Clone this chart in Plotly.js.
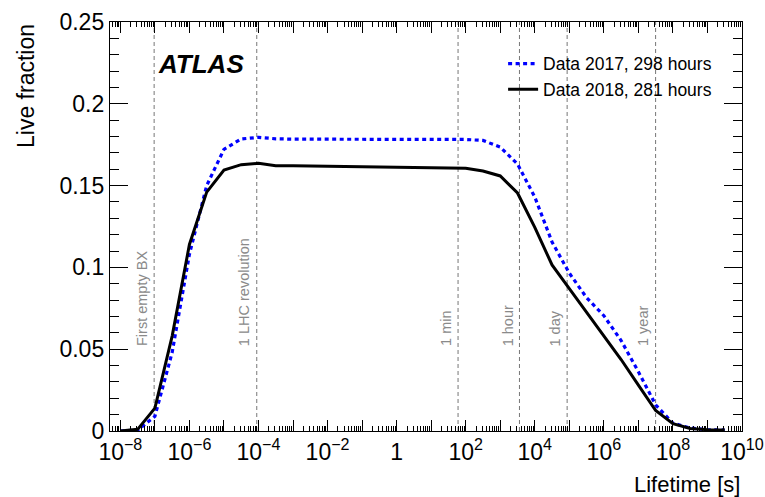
<!DOCTYPE html>
<html>
<head>
<meta charset="utf-8">
<script src="https://cdn.plot.ly/plotly-3.0.1.min.js"></script>
<style>html,body{margin:0;padding:0;background:#fff;}#chart{width:765px;height:497px;}</style>
</head>
<body>
<div id="chart"></div>
<script>
// Lifetime grid [s] (half-decade steps)
const lifetime = [1e-8, 3.16e-8, 1e-7, 3.16e-7, 1e-6, 3.16e-6, 1e-5, 3.16e-5, 1e-4, 3.16e-4,
  1e-3, 3.16e-3, 1e-2, 3.16e-2, 1e-1, 3.16e-1, 1, 3.16, 10, 31.6,
  100, 316, 1000, 3160, 1e4, 3.16e4, 1e5, 3.16e5, 1e6, 3.16e6,
  1e7, 3.16e7, 1e8, 3.16e8, 1e9, 3.16e9];
const live2017 = [0, 0.0005, 0.009, 0.048, 0.108, 0.150, 0.1722, 0.1785, 0.1795, 0.1786,
  0.1784, 0.1784, 0.1783, 0.1783, 0.1783, 0.1783, 0.1783, 0.1783, 0.1783, 0.1783,
  0.1782, 0.1776, 0.1735, 0.1632, 0.1430, 0.1155, 0.0965, 0.0815, 0.0705, 0.0553,
  0.0362, 0.0160, 0.0048, 0.0018, 0.0008, 0.0006];
const live2018 = [0, 0.001, 0.014, 0.058, 0.114, 0.146, 0.1595, 0.1628, 0.1636, 0.1622,
  0.1621, 0.1620, 0.1619, 0.1618, 0.1616, 0.1615, 0.1614, 0.1612, 0.1610, 0.1608,
  0.1606, 0.1589, 0.1559, 0.1455, 0.1245, 0.1015, 0.0870, 0.0725, 0.0578, 0.0437,
  0.0280, 0.0125, 0.0045, 0.0015, 0.0008, 0.0006];
const seriesNames = ['Data 2017, 298 hours', 'Data 2018, 281 hours'];

// Reference time scales
const refTimes = [9.5e-8, 8.9e-5, 60, 3600, 86400, 3.15e7];
const refLabels = ['First empty BX', '1 LHC revolution', '1 min', '1 hour', '1 day', '1 year'];

// Axis ticks
const xTickVals = [1e-8,1e-7,1e-6,1e-5,1e-4,1e-3,1e-2,1e-1,1,1e1,1e2,1e3,1e4,1e5,1e6,1e7,1e8,1e9,1e10];
const xTickText = ['10<sup>−8</sup>','','10<sup>−6</sup>','','10<sup>−4</sup>','','10<sup>−2</sup>','','1','',
  '10<sup>2</sup>','','10<sup>4</sup>','','10<sup>6</sup>','','10<sup>8</sup>','','10<sup>10</sup>'];
const yTickVals = [0, 0.05, 0.1, 0.15, 0.2, 0.25];

const FONT = 'Liberation Sans, Arial, Helvetica, sans-serif';
const traces = [];
refTimes.forEach(function(t){
  traces.push({x:[t,t], y:[0,0.25], mode:'lines', showlegend:false, hoverinfo:'skip',
    line:{color:'#777777', width:1, dash:'4px,3px'}});
});
traces.push({x:lifetime, y:live2017, name:seriesNames[0], mode:'lines',
  line:{color:'#0000ff', width:3.2, dash:'4px,3.5px'}});
traces.push({x:lifetime, y:live2018, name:seriesNames[1], mode:'lines',
  line:{color:'#000000', width:3}});

const annotations = refTimes.map(function(t,i){
  return {x:Math.log10(t), y:0.0505, xref:'x', yref:'y', text:refLabels[i], textangle:-90,
    showarrow:false, xanchor:'center', yanchor:'bottom', xshift:-12,
    font:{family:FONT, size:14.5, color:'#8a8a8a'}};
});
annotations.push({xref:'paper', yref:'paper', x:0.072, y:0.897, xanchor:'left', yanchor:'middle',
  text:'<b><i>ATLAS</i></b>', showarrow:false, font:{family:FONT, size:26, color:'#000'}});
annotations.push({xref:'paper', yref:'paper', x:0, y:1, xshift:-84, xanchor:'center', yanchor:'top',
  textangle:-90, text:'Live fraction', showarrow:false, font:{family:FONT, size:23, color:'#000'}});
annotations.push({xref:'paper', yref:'paper', x:1, y:0, yshift:-53, xanchor:'right', yanchor:'middle',
  text:'Lifetime [s]', showarrow:false, font:{family:FONT, size:22, color:'#000'}});

const layout = {
  width:765, height:497,
  margin:{l:110, r:23, t:22, b:66},
  paper_bgcolor:'#fff', plot_bgcolor:'#fff',
  font:{family:FONT, size:23, color:'#000'},
  showlegend:true,
  legend:{x:0.622, y:0.942, xanchor:'left', yanchor:'top', bgcolor:'rgba(0,0,0,0)',
    font:{family:FONT, size:17.5, color:'#000'}, tracegroupgap:0},
  xaxis:{type:'log', range:[-8.3, 10], tickmode:'array', tickvals:xTickVals, ticktext:xTickText,
    ticks:'inside', ticklen:11, tickwidth:1, tickcolor:'#000',
    showline:true, linecolor:'#000', linewidth:1.2, mirror:'allticks', showgrid:false, zeroline:false,
    minor:{ticks:'inside', ticklen:5, dtick:'D1', tickcolor:'#000', showgrid:false},
    tickfont:{family:FONT, size:23}},
  yaxis:{range:[0, 0.25], tickmode:'array', tickvals:yTickVals,
    ticks:'inside', ticklen:18, tickwidth:1, tickcolor:'#000',
    showline:true, linecolor:'#000', linewidth:1.2, mirror:'allticks', showgrid:false, zeroline:false,
    minor:{ticks:'inside', ticklen:9, dtick:0.01, tickcolor:'#000', showgrid:false},
    tickfont:{family:FONT, size:23}},
  annotations:annotations
};
Plotly.newPlot('chart', traces, layout, {staticPlot:true, displayModeBar:false});
</script>
</body>
</html>
